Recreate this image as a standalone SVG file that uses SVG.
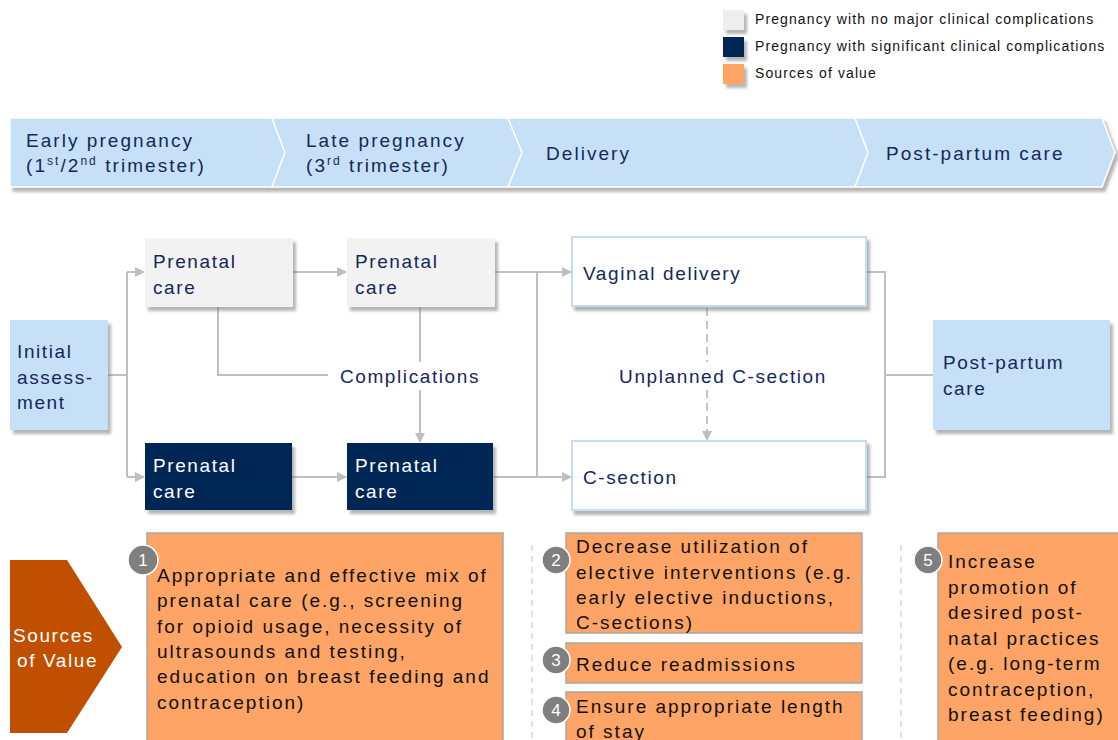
<svg xmlns="http://www.w3.org/2000/svg" width="1118" height="740" viewBox="0 0 1118 740">
<defs>
<style>
.t{font-family:"Liberation Sans",Arial,sans-serif;font-size:19px;letter-spacing:1.6px;fill:#14285a}
.h{letter-spacing:2.05px}
.w{fill:#ffffff}
.k{fill:#111111;letter-spacing:2px}
.lg{font-family:"Liberation Sans",Arial,sans-serif;font-size:14px;letter-spacing:1.1px;fill:#111111}
.num{font-family:"Liberation Sans",Arial,sans-serif;font-size:17px;fill:#ffffff;text-anchor:middle}
.chev{fill:#c6e0f8;stroke:#ffffff;stroke-width:1.5}
.lb{fill:#c6e0f8}
.gr{fill:#f2f2f2}
.nv{fill:#002857}
.wt{fill:#ffffff;stroke:#c6dcf5;stroke-width:2}
.or{fill:#fda466;stroke:#a6a6a6;stroke-width:1.5}
.c{fill:none;stroke:#bfbfbf;stroke-width:2}
.d{fill:none;stroke:#c4c4c4;stroke-width:2;stroke-dasharray:8,5}
.sep{fill:none;stroke:#cfcfcf;stroke-width:1.2;stroke-dasharray:6,5}
.circ{fill:#7f7f7f;stroke:#ffffff;stroke-width:1.5}
</style>
<filter id="sh" x="-10%" y="-10%" width="130%" height="140%">
<feDropShadow dx="3" dy="4" stdDeviation="1.5" flood-color="#777777" flood-opacity="0.55"/>
</filter>
<marker id="ar" viewBox="0 0 10 10" refX="9" refY="5" markerWidth="5" markerHeight="5" orient="auto">
<path d="M0,0 L10,5 L0,10 Z" fill="#bfbfbf"/>
</marker>
</defs>
<rect width="1118" height="740" fill="#ffffff"/>

<g id="legend">
<rect x="723" y="10" width="21" height="20" fill="#eeeeee" filter="url(#sh)"/>
<rect x="723" y="37" width="21" height="20" fill="#002857" filter="url(#sh)"/>
<rect x="723" y="64" width="21" height="20" fill="#fda466" filter="url(#sh)"/>
<text class="lg" x="755" y="24">Pregnancy with no major clinical complications</text>
<text class="lg" x="755" y="51">Pregnancy with significant clinical complications</text>
<text class="lg" x="755" y="78">Sources of value</text>
</g>

<g id="phases" filter="url(#sh)">
<path class="chev" d="M10,118 H272 L285,152.5 L272,187 H10 Z"/>
<path class="chev" d="M272,118 H508 L522,152.5 L508,187 H272 L285,152.5 Z"/>
<path class="chev" d="M508,118 H855 L868,152.5 L855,187 H508 L522,152.5 Z"/>
<path class="chev" d="M855,118 H1102 L1115,152.5 L1102,187 H855 L868,152.5 Z"/>
</g>
<g id="phase-labels">
<text class="t h" x="26" y="147">Early pregnancy</text>
<text class="t h" x="26" y="172">(1<tspan font-size="12" dy="-7">st</tspan><tspan dy="7">/2</tspan><tspan font-size="12" dy="-7">nd</tspan><tspan dy="7"> trimester)</tspan></text>
<text class="t h" x="306" y="147">Late pregnancy</text>
<text class="t h" x="306" y="172">(3<tspan font-size="12" dy="-7">rd</tspan><tspan dy="7"> trimester)</tspan></text>
<text class="t h" x="546" y="160">Delivery</text>
<text class="t h" x="886" y="160">Post-partum care</text>
</g>

<g id="connectors">
<path class="c" d="M108,375 H127"/>
<path class="c" d="M127,272 V477"/>
<path class="c" d="M127,272 H144" marker-end="url(#ar)"/>
<path class="c" d="M127,477 H144" marker-end="url(#ar)"/>
<path class="c" d="M293,272 H346" marker-end="url(#ar)"/>
<path class="c" d="M292,477 H346" marker-end="url(#ar)"/>
<path class="c" d="M218,307 V375 H328"/>
<path class="c" d="M420,307 V362"/>
<path class="c" d="M420,390 V442" marker-end="url(#ar)"/>
<path class="c" d="M495,272 H571" marker-end="url(#ar)"/>
<path class="c" d="M493,477 H571" marker-end="url(#ar)"/>
<path class="c" d="M537,272 V477"/>
<path class="d" d="M707,308 V362"/>
<path class="d" d="M707,390 V440" marker-end="url(#ar)"/>
<path class="c" d="M866,272 H885 V477 H866"/>
<path class="c" d="M885,375 H933"/>
<text class="t" x="410" y="383" text-anchor="middle">Complications</text>
<text class="t" x="723" y="383" text-anchor="middle">Unplanned C-section</text>
</g>

<g id="initial-assessment">
<rect class="lb" x="10" y="320" width="98" height="110" filter="url(#sh)"/>
<text class="t" x="17" y="358">Initial</text>
<text class="t" x="17" y="384">assess-</text>
<text class="t" x="17" y="409">ment</text>
</g>
<g id="prenatal-early-normal">
<rect class="gr" x="145" y="238" width="148" height="69" filter="url(#sh)"/>
<text class="t" x="153" y="268">Prenatal</text>
<text class="t" x="153" y="294">care</text>
</g>
<g id="prenatal-late-normal">
<rect class="gr" x="347" y="238" width="148" height="69" filter="url(#sh)"/>
<text class="t" x="355" y="268">Prenatal</text>
<text class="t" x="355" y="294">care</text>
</g>
<g id="prenatal-early-comp">
<rect class="nv" x="145" y="443" width="147" height="67" filter="url(#sh)"/>
<text class="t w" x="153" y="472">Prenatal</text>
<text class="t w" x="153" y="498">care</text>
</g>
<g id="prenatal-late-comp">
<rect class="nv" x="347" y="443" width="146" height="67" filter="url(#sh)"/>
<text class="t w" x="355" y="472">Prenatal</text>
<text class="t w" x="355" y="498">care</text>
</g>
<g id="vaginal-delivery">
<rect class="wt" x="572" y="237" width="294" height="69" filter="url(#sh)"/>
<text class="t" x="583" y="280">Vaginal delivery</text>
</g>
<g id="c-section">
<rect class="wt" x="572" y="441" width="294" height="69" filter="url(#sh)"/>
<text class="t" x="583" y="484">C-section</text>
</g>
<g id="post-partum-care">
<rect class="lb" x="933" y="320" width="177" height="110" filter="url(#sh)"/>
<text class="t" x="943" y="369">Post-partum</text>
<text class="t" x="943" y="395">care</text>
</g>

<g id="separators">
<path class="sep" d="M532,545 V740"/>
<path class="sep" d="M901,545 V740"/>
</g>

<g id="sources-of-value">
<path d="M10,560 H67 L122,647 L67,733 H10 Z" fill="#c04f00"/>
<text class="t w" x="13" y="642">Sources</text>
<text class="t w" x="17" y="667">of Value</text>
</g>

<g id="value-1">
<rect class="or" x="147" y="533" width="356" height="215"/>
<text class="t k" x="157" y="582">Appropriate and effective mix of</text>
<text class="t k" x="157" y="607">prenatal care (e.g., screening</text>
<text class="t k" x="157" y="633">for opioid usage, necessity of</text>
<text class="t k" x="157" y="658">ultrasounds and testing,</text>
<text class="t k" x="157" y="683">education on breast feeding and</text>
<text class="t k" x="157" y="709">contraception)</text>
<circle class="circ" cx="143" cy="560" r="15"/>
<text class="num" x="143" y="566">1</text>
</g>
<g id="value-2">
<rect class="or" x="566" y="533" width="296" height="100"/>
<text class="t k" x="576" y="553">Decrease utilization of</text>
<text class="t k" x="576" y="579">elective interventions (e.g.</text>
<text class="t k" x="576" y="604">early elective inductions,</text>
<text class="t k" x="576" y="629">C-sections)</text>
<circle class="circ" cx="556" cy="560" r="14"/>
<text class="num" x="556" y="566">2</text>
</g>
<g id="value-3">
<rect class="or" x="566" y="643" width="296" height="40"/>
<text class="t k" x="576" y="671">Reduce readmissions</text>
<circle class="circ" cx="556" cy="660" r="14"/>
<text class="num" x="556" y="666">3</text>
</g>
<g id="value-4">
<rect class="or" x="566" y="692" width="296" height="56"/>
<text class="t k" x="576" y="713">Ensure appropriate length</text>
<text class="t k" x="576" y="738">of stay</text>
<circle class="circ" cx="556" cy="710" r="14"/>
<text class="num" x="556" y="716">4</text>
</g>
<g id="value-5">
<rect class="or" x="938" y="533" width="185" height="215"/>
<text class="t k" x="948" y="568">Increase</text>
<text class="t k" x="948" y="594">promotion of</text>
<text class="t k" x="948" y="619">desired post-</text>
<text class="t k" x="948" y="645">natal practices</text>
<text class="t k" x="948" y="670">(e.g.  long-term</text>
<text class="t k" x="948" y="696">contraception,</text>
<text class="t k" x="948" y="721">breast feeding)</text>
<circle class="circ" cx="928" cy="560" r="14"/>
<text class="num" x="928" y="566">5</text>
</g>
</svg>
